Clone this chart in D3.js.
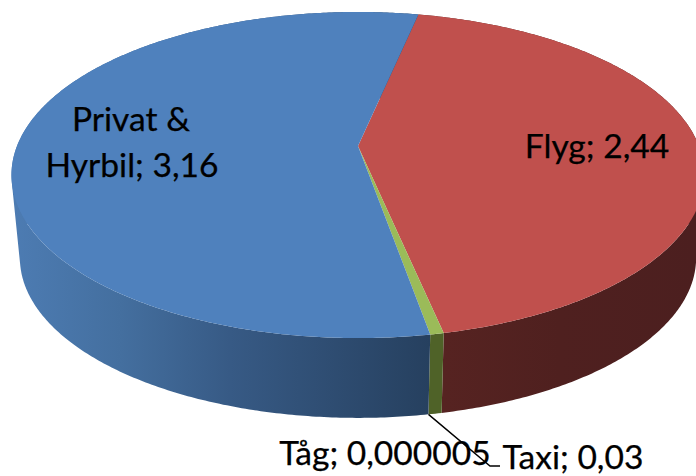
<!DOCTYPE html>
<html>
<head>
<meta charset="utf-8">
<script src="https://cdn.jsdelivr.net/npm/d3@7"></script>
<style>
  html, body { margin: 0; padding: 0; background: #fff; overflow: hidden; }
  text { font-family: Lato, "Open Sans", sans-serif; fill: #000; stroke: #000; stroke-width: 0.25; }
</style>
</head>
<body>
<svg id="chart" width="696" height="476"></svg>
<script>
const categories = ['Flyg', 'Taxi', 'Tåg', 'Privat & Hyrbil'];
const values = [2.44, 0.03, 0.000005, 3.16];
const topColors = ['#c0504d', '#9bbb59', '#9bbb59', '#4f81bd'];
const valueLabels = ['2,44', '0,03', '0,000005', '3,16'];

const svg = d3.select('#chart');
const defs = svg.append('defs');

// tilted disc: one perspective mapping for the top face, one for the bottom
const persp = -0.178;
const topFace = { cx: 358, b: 146, p: 131.9, d: 341 };
const bottomFace = { cx: 358, b: 229.5, p: 114, d: 332.7 };

function project(face, a) {
  const x = Math.sin(a), y = -Math.cos(a);
  const w = 1 + persp * y;
  return [face.cx + face.d * x / w, (face.b + face.p * y) / w];
}

const slices = d3.pie().sort(null).startAngle(12 * Math.PI / 180).endAngle(372 * Math.PI / 180)(values);

function arcAngles(s, step) {
  const n = Math.max(1, Math.ceil((s.endAngle - s.startAngle) / step));
  return d3.range(n + 1).map(i => s.startAngle + (s.endAngle - s.startAngle) * i / n);
}

const line = d3.line();
const sideStops = [
  { at: [0, 445, 560, 696], colors: ['#562321', '#562321', '#4f201f', '#4c1f1f'] },
  { at: [0, 696], colors: ['#4f6228', '#4f6228'] },
  { at: [0, 696], colors: ['#4f6228', '#4f6228'] },
  { at: [10, 120, 230, 430], colors: ['#4d7cb3', '#446f9f', '#375a85', '#26405f'] }
];

// side wall, shaded along x. quads all wound the same way so the fold at the
// silhouette does not cancel out under nonzero fill
slices.forEach((s, i) => {
  const grad = defs.append('linearGradient')
    .attr('id', 'side' + i)
    .attr('gradientUnits', 'userSpaceOnUse')
    .attr('x1', 0).attr('x2', 696).attr('y1', 0).attr('y2', 0);
  grad.selectAll('stop')
    .data(sideStops[i].at)
    .enter()
    .append('stop')
    .attr('offset', d => d / 696)
    .attr('stop-color', (d, k) => sideStops[i].colors[k]);
  const quads = d3.pairs(arcAngles(s, 0.01)).map(d => {
    const q = [project(topFace, d[0]), project(topFace, d[1]), project(bottomFace, d[1]), project(bottomFace, d[0])];
    return line(d3.polygonArea(q) < 0 ? q.reverse() : q) + 'Z';
  });
  svg.append('path')
    .attr('d', quads.join(''))
    .attr('fill', 'url(#side' + i + ')');
});

// top face
svg.append('g').selectAll('path')
  .data(slices)
  .enter()
  .append('path')
  .attr('d', s => line([[topFace.cx, topFace.b]].concat(arcAngles(s, 0.01).map(a => project(topFace, a)))) + 'Z')
  .attr('fill', (s, i) => topColors[i]);

const fontSize = 33.6;
function label(txt, x, y) {
  svg.append('text')
    .attr('x', x)
    .attr('y', y)
    .attr('text-anchor', 'middle')
    .attr('font-size', fontSize)
    .text(txt);
}

label('Privat &', 131, 131);
label('Hyrbil; ' + valueLabels[3], 132, 177);
label(categories[0] + '; ' + valueLabels[0], 597, 158);
label(categories[2] + '; ' + valueLabels[2], 385, 465);
label(categories[1] + '; ' + valueLabels[1], 573, 469);

// leader line for the two small slices
const tagMid = (slices[2].startAngle + slices[2].endAngle) / 2;
const leaderStart = project(bottomFace, tagMid);
svg.append('path')
  .attr('d', line([leaderStart, [490, 466], [500, 466]]))
  .attr('fill', 'none')
  .attr('stroke', '#000')
  .attr('stroke-width', 1.4);
</script>
</body>
</html>
